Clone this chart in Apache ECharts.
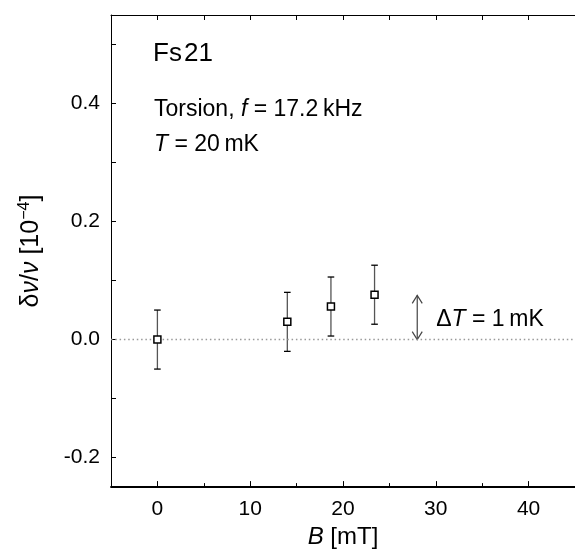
<!DOCTYPE html>
<html>
<head>
<meta charset="utf-8">
<script src="https://cdn.jsdelivr.net/npm/echarts@6/dist/echarts.min.js"></script>
<style>
html,body{margin:0;padding:0;background:#fff;}
#chart{width:575px;height:554px;}
</style>
</head>
<body>
<div id="chart"></div>
<script>
// ---- data ----
const fieldB = [0.0, 14.0, 18.7, 23.4];        // B [mT]
const dvv = [0.000, 0.030, 0.056, 0.076];       // δν/ν [1e-4]
const dvvErr = [0.05, 0.05, 0.05, 0.05];        // error bars
const xTickLabels = [0, 10, 20, 30, 40];
const xMinorTicks = [5, 15, 25, 35, 45];
const xTopTicks = [0, 5, 10, 15, 20, 25, 30, 35, 40, 45];
const yTickLabels = [-0.2, 0.0, 0.2, 0.4];
const yTicks = [-0.2, -0.1, 0.0, 0.1, 0.2, 0.3, 0.4, 0.5];
const arrowB = [28.0];
const arrowFrom = [0.0];
const arrowTo = [0.075];

const FONT = '"Liberation Sans", Arial, sans-serif';

const pts = fieldB.map((b, i) => [b, dvv[i], dvvErr[i]]);

const chart = echarts.init(document.getElementById('chart'), null, {renderer: 'canvas'});

const option = {
  animation: false,
  backgroundColor: '#fff',
  grid: {left: 111, top: 15, right: -10, bottom: 65, containLabel: false},
  xAxis: [
    {
      type: 'value', min: -5, max: 45, position: 'bottom',
      axisLine: {show: true, onZero: false, lineStyle: {color: '#000', width: 1.8}},
      axisTick: {show: true, inside: true, length: 6, customValues: xTickLabels, lineStyle: {color: '#000', width: 1}},
      axisLabel: {show: true, customValues: xTickLabels, margin: 12, color: '#000', fontSize: 21, fontFamily: FONT},
      splitLine: {show: false},
      name: '{i|B} [mT]', nameLocation: 'middle', nameGap: 37,
      nameTextStyle: {color: '#000', fontSize: 24, fontFamily: FONT, rich: {i: {fontStyle: 'italic', fontSize: 24, fontFamily: FONT, color: '#000'}}}
    },
    {
      type: 'value', min: -5, max: 45, position: 'bottom',
      axisLine: {show: false, onZero: false},
      axisTick: {show: true, inside: true, length: 4, customValues: xMinorTicks, lineStyle: {color: '#000', width: 1}},
      axisLabel: {show: false},
      splitLine: {show: false}
    },
    {
      type: 'value', min: -5, max: 45, position: 'top',
      axisLine: {show: true, onZero: false, lineStyle: {color: '#000', width: 1}},
      axisTick: {show: true, inside: true, length: 5, customValues: xTopTicks, lineStyle: {color: '#000', width: 1}},
      axisLabel: {show: false},
      splitLine: {show: false}
    }
  ],
  yAxis: [
    {
      type: 'value', min: -0.25, max: 0.55, position: 'left',
      axisLine: {show: true, onZero: false, lineStyle: {color: '#000', width: 1}},
      axisTick: {show: true, inside: true, length: 5, customValues: yTicks, lineStyle: {color: '#000', width: 1}},
      axisLabel: {show: true, customValues: yTickLabels, margin: 11, color: '#000', fontSize: 21, fontFamily: FONT,
        formatter: v => (Math.abs(v) < 1e-9 ? 0 : v).toFixed(1)},
      splitLine: {show: false},
      name: 'δ{i|ν}/{i|ν} [10{s|−4}]', nameLocation: 'middle', nameGap: 66, nameRotate: 90,
      nameTextStyle: {color: '#000', fontSize: 25, fontFamily: FONT,
        rich: {
          i: {fontStyle: 'italic', fontSize: 25, fontFamily: FONT, color: '#000'},
          s: {fontSize: 16, fontFamily: FONT, color: '#000', verticalAlign: 'top', padding: [0, 0, 12, 0]}
        }}
    }
  ],
  graphic: [
    {type: 'text', x: 153, y: 53.5, style: {text: 'Fs\u200a21', fontSize: 26, fontFamily: FONT, fill: '#000', verticalAlign: 'middle'}},
    {type: 'text', x: 154, y: 109.5, style: {text: 'Torsion, {i|f} = 17.2\u2009kHz', fontSize: 23, fontFamily: FONT, fill: '#000', verticalAlign: 'middle',
      rich: {i: {fontStyle: 'italic', fontSize: 23, fontFamily: FONT, fill: '#000'}}}},
    {type: 'text', x: 154, y: 144.5, style: {text: '{i|T} = 20\u2009mK', fontSize: 23, fontFamily: FONT, fill: '#000', verticalAlign: 'middle',
      rich: {i: {fontStyle: 'italic', fontSize: 23, fontFamily: FONT, fill: '#000'}}}}
  ],
  series: [
    {
      type: 'custom', xAxisIndex: 0, yAxisIndex: 0, z: 2, silent: true,
      data: pts,
      renderItem: function (params, api) {
        const x = api.value(0), y = api.value(1), e = api.value(2);
        const top = api.coord([x, y + e]);
        const bot = api.coord([x, y - e]);
        const hw = 3.3;
        return {
          type: 'group',
          children: [
            {type: 'line', shape: {x1: top[0], y1: top[1], x2: bot[0], y2: bot[1]}, style: {stroke: '#555', lineWidth: 1.3}},
            {type: 'line', shape: {x1: top[0] - hw, y1: top[1], x2: top[0] + hw, y2: top[1]}, style: {stroke: '#000', lineWidth: 1.3}},
            {type: 'line', shape: {x1: bot[0] - hw, y1: bot[1], x2: bot[0] + hw, y2: bot[1]}, style: {stroke: '#000', lineWidth: 1.3}}
          ]
        };
      }
    },
    {
      type: 'scatter', xAxisIndex: 0, yAxisIndex: 0, z: 5, silent: true,
      data: pts.map(p => [p[0], p[1]]),
      symbol: 'rect', symbolSize: 7,
      itemStyle: {color: '#fff', borderColor: '#000', borderWidth: 1.5, opacity: 1},
      markLine: {
        silent: true, symbol: ['none', 'none'], label: {show: false},
        lineStyle: {type: [1.5, 2.8], color: '#999', width: 1.3},
        data: [{yAxis: 0}]
      }
    },
    {
      type: 'custom', xAxisIndex: 0, yAxisIndex: 0, z: 3, silent: true,
      data: arrowB.map((b, i) => [b, arrowFrom[i], arrowTo[i]]),
      renderItem: function (params, api) {
        const b = api.value(0);
        const p0 = api.coord([b, api.value(1)]);
        const p1 = api.coord([b, api.value(2)]);
        const ah = 8, aw = 5;
        return {
          type: 'group',
          children: [
            {type: 'line', shape: {x1: p0[0], y1: p0[1], x2: p1[0], y2: p1[1]}, style: {stroke: '#444', lineWidth: 1.2}},
            {type: 'polyline', shape: {points: [[p1[0] - aw, p1[1] + ah], [p1[0], p1[1]], [p1[0] + aw, p1[1] + ah]]}, style: {stroke: '#444', lineWidth: 1.2, fill: null}},
            {type: 'polyline', shape: {points: [[p0[0] - aw, p0[1] - ah], [p0[0], p0[1]], [p0[0] + aw, p0[1] - ah]]}, style: {stroke: '#444', lineWidth: 1.2, fill: null}},
            {type: 'text', x: p0[0] + 19, y: (p0[1] + p1[1]) / 2 + 2.5,
              style: {text: 'Δ{i|T} = 1\u2009mK', fontSize: 23, fontFamily: FONT, fill: '#000', verticalAlign: 'middle', align: 'left',
                rich: {i: {fontStyle: 'italic', fontSize: 23, fontFamily: FONT, fill: '#000'}}}}
          ]
        };
      }
    }
  ]
};
chart.setOption(option);
</script>
</body>
</html>
